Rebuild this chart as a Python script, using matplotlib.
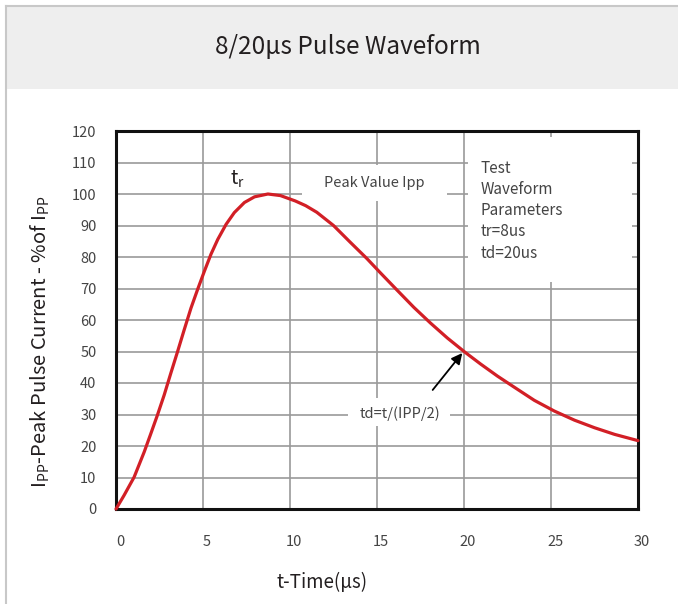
import numpy as np
import matplotlib.pyplot as plt
from matplotlib.patches import Rectangle
import matplotlib.transforms as mtransforms

plt.rcParams['font.family'] = ['Noto Sans CJK SC', 'DejaVu Sans']
plt.rcParams['mathtext.fontset'] = 'custom'
plt.rcParams['mathtext.rm'] = 'Noto Sans CJK SC'

# curve (time in us, % of Ipp)
time_us = [0, 0.46, 1.04, 1.62, 2.0, 2.38, 2.77, 3.15, 3.54, 3.92, 4.31, 4.69,
           5.08, 5.46, 5.85, 6.33, 6.8, 7.38, 7.96, 8.73, 9.45, 10.3, 10.9,
           11.54, 12.5, 13.46, 14.42, 15.19, 16.15, 17.12, 18.08, 19.04, 20.05,
           20.96, 21.92, 22.88, 24.04, 25.19, 26.35, 27.5, 28.65, 30.0]
current_pct = [0, 4.3, 10.1, 18.1, 23.9, 29.8, 36.2, 43.1, 50, 56.9, 63.8, 69.7,
               75.5, 80.9, 85.6, 90.4, 94.1, 97.3, 99.1, 100, 99.5, 97.8, 96.3,
               94.2, 90, 84.7, 79.5, 75.0, 69.5, 64.0, 59.0, 54.3, 49.8,
               46.0, 42.2, 38.7, 34.5, 31.1, 28.2, 25.8, 23.7, 21.7]

x_ticks = [0, 5, 10, 15, 20, 25, 30]
y_ticks = list(range(0, 121, 10))
params_lines = ['Test', 'Waveform', 'Parameters', 'tr=8us', 'td=20us']

W, H = 678, 604
fig = plt.figure(figsize=(W / 100, H / 100), dpi=100)

# header band + frame
fig.patches.append(Rectangle((6 / W, (H - 89) / H), 1, 84 / H, transform=fig.transFigure,
                             facecolor='#eeeeee', edgecolor='none', zorder=0))
fig.add_artist(plt.Line2D([5.5 / W, 1], [(H - 5.5) / H] * 2, color='#c8c8c8', lw=1.5))
fig.add_artist(plt.Line2D([5.5 / W] * 2, [0, (H - 5.5) / H], color='#c8c8c8', lw=1.5))
fig.text(348 / W, (H - 47) / H, '8/20μs Pulse Waveform', ha='center', va='center',
         fontsize=17.5, fontweight='medium', color='#231f20')

ax = fig.add_axes([116 / W, (H - 509) / H, 522 / W, 378 / H])
ax.set_xlim(0, 30)
ax.set_ylim(0, 120)
ax.set_xticks(x_ticks)
ax.set_yticks(y_ticks)
ax.grid(True, color='#9a9a9a', lw=1.2)
ax.set_axisbelow(True)
ax.tick_params(length=0, labelsize=10.5, labelcolor='#444444')
ax.tick_params(axis='x', pad=19)
ax.tick_params(axis='y', pad=14)
shift = mtransforms.ScaledTranslation(4 / 100, 0, fig.dpi_scale_trans)
for lbl in ax.get_xticklabels():
    lbl.set_transform(lbl.get_transform() + shift)
for s in ax.spines.values():
    s.set_linewidth(2.2)
    s.set_color('#111111')

# white boxes that hide the grid behind the notes
ax.add_patch(Rectangle((20.25, 72), 9.4, 46, facecolor='white', edgecolor='none', zorder=1))
ax.add_patch(Rectangle((10.7, 97.9), 8.35, 11.4, facecolor='white', edgecolor='none', zorder=1))
ax.add_patch(Rectangle((13.35, 26.5), 5.85, 8.6, facecolor='white', edgecolor='none', zorder=1))

ax.plot(time_us, current_pct, color='#d21f26', lw=2.3, zorder=3, clip_on=False,
        solid_capstyle='round', solid_joinstyle='round')

ax.text(7.0, 104.6, r'$\mathregular{t_r}$', fontsize=14, color='#231f20', ha='center',
        va='center', zorder=4)
ax.text(14.85, 103.5, 'Peak Value Ipp', fontsize=10.5, color='#444444', ha='center',
        va='center', zorder=4)
for i, line in enumerate(params_lines):
    ax.text(20.95, 108.2 - i * 6.75, line, fontsize=11, color='#444444', ha='left',
            va='center', zorder=4)
ax.text(16.3, 30.4, 'td=t/(IPP/2)', fontsize=10.5, color='#444444', ha='center',
        va='center', zorder=4)
ax.annotate('', xy=(20.0, 50.2), xytext=(18.1, 37.1),
            arrowprops=dict(arrowstyle='-|>', color='black', lw=1.3, mutation_scale=16),
            zorder=4)

fig.text(40 / W, (H - 342) / H, r'$\mathregular{I_{PP}}$-Peak Pulse Current - %of $\mathregular{I_{PP}}$',
         rotation=90, ha='center', va='center', fontsize=14.5, color='#231f20')
fig.text(322 / W, (H - 582) / H, 't-Time(μs)', ha='center', va='center',
         fontsize=13.5, color='#231f20')

fig.savefig('out.png', dpi=100)
